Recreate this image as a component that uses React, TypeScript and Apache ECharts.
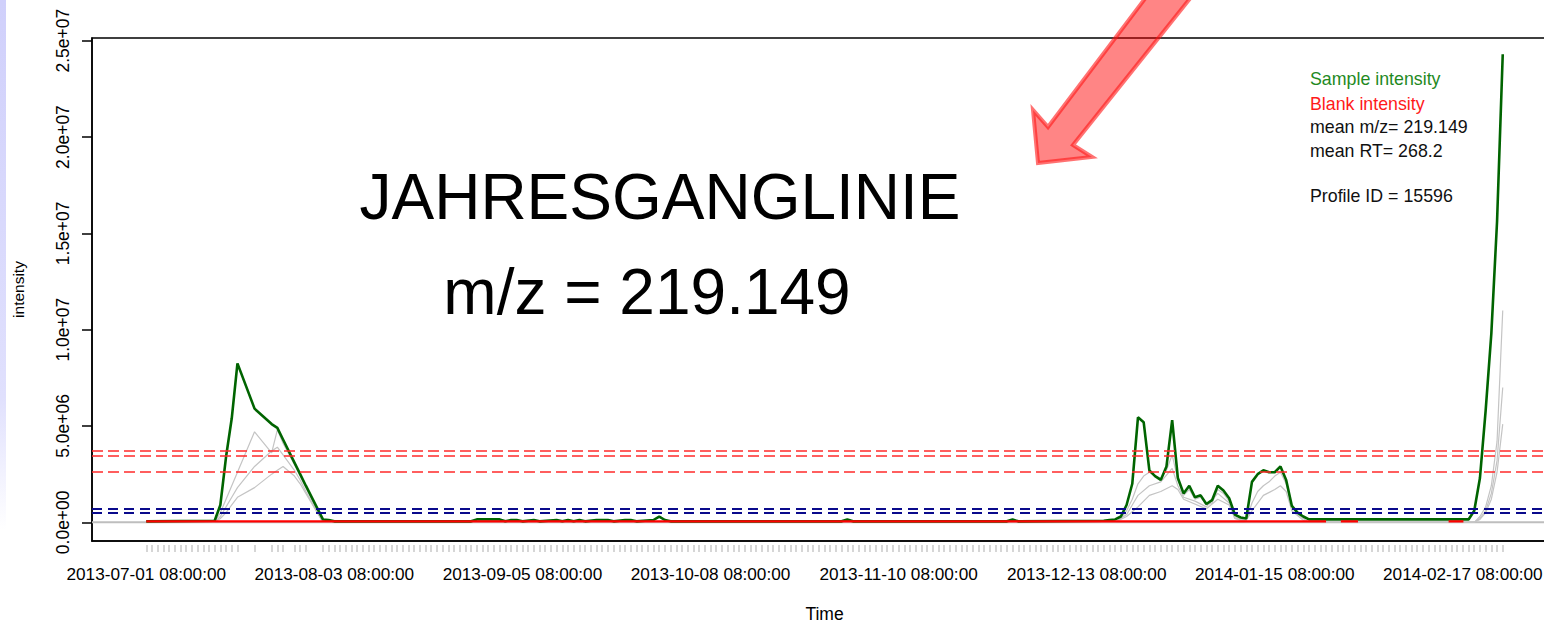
import { useEffect, useRef } from "react";
import * as echarts from "echarts";

const FONT = "'Liberation Sans', Arial, Helvetica, sans-serif";

// x values are days since 2013-07-01 08:00:00; y values are in millions
const xTickDays = [0, 33, 66, 99, 132, 165, 198, 231];
const xTickLabels = [
  "2013-07-01 08:00:00",
  "2013-08-03 08:00:00",
  "2013-09-05 08:00:00",
  "2013-10-08 08:00:00",
  "2013-11-10 08:00:00",
  "2013-12-13 08:00:00",
  "2014-01-15 08:00:00",
  "2014-02-17 08:00:00",
];
const yTickValues = [0, 5, 10, 15, 20, 25];
const yTickLabels = ["0.0e+00", "5.0e+06", "1.0e+07", "1.5e+07", "2.0e+07", "2.5e+07"];

const sampleDays = [
  0, 1, 2, 3, 4, 5, 6, 7, 8, 9, 10, 11, 12, 13, 14, 15, 16, 19, 22, 23, 24, 26, 27, 28,
  31, 32, 33, 34, 35, 36, 37, 38, 39, 40, 41, 42, 43, 44, 45, 46, 47, 48, 49, 50,
  51, 52, 53, 54, 55, 56, 57, 58, 59, 60, 61, 62, 63, 64, 65, 66, 67, 68, 69, 70,
  71, 72, 73, 74, 75, 76, 77, 78, 79, 80, 81, 82, 83, 84, 85, 86, 87, 88, 89, 90,
  91, 92, 93, 94, 95, 96, 97, 98, 99, 100, 101, 102, 103, 104, 105, 106, 107, 108, 109, 110,
  111, 112, 113, 114, 115, 116, 117, 118, 119, 120, 121, 122, 123, 124, 125, 126, 127, 128, 129, 130,
  131, 132, 133, 134, 135, 136, 137, 138, 139, 140, 141, 142, 143, 144, 145, 146, 147, 148, 149, 150,
  151, 152, 153, 154, 155, 156, 157, 158, 159, 160, 161, 162, 163, 164, 165, 166, 167, 168, 169, 170,
  171, 172, 173, 174, 175, 176, 177, 178, 179, 180, 181, 182, 183, 184, 185, 186, 187, 188, 189, 190,
  191, 192, 193, 194, 195, 196, 197, 198, 199, 200, 201, 202, 203, 204, 205, 206, 207, 208, 209, 210,
  211, 212, 213, 214, 215, 216, 217, 218, 219, 220, 221, 222, 223, 224, 225, 226, 227, 228, 229, 230,
  231, 232, 233, 234, 235, 236, 237, 238,
];

const sampleIntensity = [
  [0, 0.05], [12, 0.08], [13, 0.9], [14, 3.4], [15, 5.4], [16, 8.25], [19, 5.9], [22, 5.1], [23, 4.9],
  [24, 4.3], [26, 3.1], [27, 2.5], [28, 1.9], [31, 0.15], [32, 0.12], [33, 0.05],
  [57, 0.05], [58, 0.15], [62, 0.15], [63, 0.05], [64, 0.12], [65, 0.12], [66, 0.05], [68, 0.12], [69, 0.05],
  [72, 0.12], [73, 0.05], [74, 0.12], [75, 0.05], [76, 0.12], [77, 0.05],
  [79, 0.12], [81, 0.12], [82, 0.05], [84, 0.12], [85, 0.12], [86, 0.05], [89, 0.12], [90, 0.3], [91, 0.12], [92, 0.05],
  [122, 0.05], [123, 0.15], [124, 0.05], [151, 0.05], [152, 0.15], [153, 0.05],
  [168, 0.08], [169, 0.12], [170, 0.15], [171, 0.3], [172, 0.9], [173, 2.0], [174, 5.45], [175, 5.2], [176, 2.7],
  [177, 2.4], [178, 2.2], [179, 2.9], [180, 5.3], [181, 2.3], [182, 1.5], [183, 1.9], [184, 1.3], [185, 1.4],
  [186, 0.95], [187, 1.15], [188, 1.9], [189, 1.65], [190, 1.25], [191, 0.4], [192, 0.25], [193, 0.2],
  [194, 2.1], [195, 2.5], [196, 2.7], [197, 2.6], [198, 2.6], [199, 2.9], [200, 2.2], [201, 0.85], [202, 0.5],
  [203, 0.3], [204, 0.15], [232, 0.15], [233, 0.6], [234, 2.3], [235, 5.8], [236, 9.8], [237, 15.6], [238, 24.3],
];

const blankIntensity = [
  [0, 0.05], [207, 0.05], [208, "-"], [209.6, 0.05], [212.6, 0.05], [213, "-"], [228.5, 0.05], [231.1, 0.05],
];

const replicateA = [
  [0, 0], [12, 0], [13, 0.5], [14, 1.2], [15, 1.9], [16, 2.6], [19, 4.7], [22, 3.6], [23, 4.8], [24, 4.1],
  [26, 3.0], [27, 2.4], [28, 1.8], [31, 0], [170, 0], [171, 0.2], [172, 0.6], [173, 1.2], [174, 2.0], [175, 2.4],
  [176, 2.6], [177, 2.4], [178, 2.3], [179, 2.7], [180, 3.5], [181, 2.2], [182, 1.4], [183, 1.7], [184, 1.2],
  [185, 1.3], [186, 0.9], [187, 1.0], [188, 1.7], [189, 1.5], [190, 1.1], [191, 0.3], [192, 0.1], [193, 0.1],
  [194, 1.0], [195, 1.6], [196, 1.9], [197, 2.1], [198, 2.4], [199, 2.6], [200, 2.0], [201, 0.8], [202, 0.4],
  [203, 0.2], [204, 0], [233, 0], [234, 0.3], [235, 0.8], [236, 1.9], [237, 4.2], [238, 11.0],
];
const replicateB = [
  [0, 0], [12, 0], [13, 0.3], [14, 0.8], [15, 1.3], [16, 1.8], [19, 2.9], [22, 3.7], [23, 3.9], [24, 3.5],
  [26, 2.7], [27, 2.2], [28, 1.6], [31, 0], [170, 0], [172, 0.4], [173, 0.9], [174, 1.4], [176, 1.9], [178, 2.1],
  [180, 2.8], [181, 1.9], [182, 1.3], [184, 1.1], [186, 0.8], [188, 1.5], [190, 1.0], [191, 0.2], [193, 0.1],
  [194, 0.6], [196, 1.4], [198, 1.7], [199, 1.9], [200, 1.6], [201, 0.6], [203, 0.1], [204, 0], [233, 0],
  [234, 0.2], [235, 0.6], [236, 1.5], [237, 3.2], [238, 7.0],
];
const replicateC = [
  [0, 0], [12, 0], [13, 0.2], [14, 0.5], [15, 0.9], [16, 1.3], [19, 1.8], [22, 2.5], [23, 2.7], [24, 2.9],
  [26, 2.4], [27, 2.0], [28, 1.5], [31, 0], [170, 0], [172, 0.3], [174, 0.8], [176, 1.4], [178, 1.6], [180, 1.9],
  [181, 1.7], [182, 1.2], [186, 0.7], [188, 1.2], [190, 0.9], [191, 0.2], [193, 0], [233, 0], [234, 0.15],
  [235, 0.5], [236, 1.2], [237, 2.6], [238, 5.1],
];

const blankThresholds = [3.74, 3.46, 2.64];
const sampleThresholds = [0.68, 0.51];

const legendLines = [
  { text: "Sample intensity", color: "#1f8a1f", y: 78.5 },
  { text: "Blank intensity", color: "#ff1a1a", y: 103.5 },
  { text: "mean m/z= 219.149", color: "#111111", y: 127 },
  { text: "mean RT= 268.2", color: "#111111", y: 150.5 },
  { text: "Profile ID = 15596", color: "#111111", y: 196 },
];

const X_MIN = -9.52;
const X_MAX = 247.52;

export default function App() {
  const ref = useRef<HTMLDivElement>(null);
  useEffect(() => {
    if (!ref.current) return;
    const chart = echarts.init(ref.current, undefined, { renderer: "svg" });
    const option: any = {
      animation: false,
      backgroundColor: "#ffffff",
      textStyle: { fontFamily: FONT },
      grid: {
        left: 92,
        top: 38,
        width: 1465,
        height: 503,
        show: true,
        borderColor: "#000",
        borderWidth: 1.5,
        backgroundColor: "transparent",
        containLabel: false,
        outerBoundsMode: "none",
      },
      xAxis: [
        {
          type: "value",
          min: X_MIN,
          max: X_MAX,
          position: "bottom",
          axisLine: { show: true, onZero: false, lineStyle: { color: "#000", width: 1.5 } },
          axisTick: { show: false },
          splitLine: { show: false },
          axisLabel: {
            customValues: xTickDays,
            formatter: (v: number) => {
              const i = xTickDays.indexOf(Math.round(v));
              return i >= 0 ? xTickLabels[i] : "";
            },
            color: "#000",
            fontSize: 17.2,
            margin: 24,
            fontFamily: FONT,
          },
          name: "Time",
          nameLocation: "middle",
          nameGap: 64,
          nameTextStyle: { fontSize: 17.5, color: "#000", fontFamily: FONT },
        },
        {
          type: "value",
          min: X_MIN,
          max: X_MAX,
          position: "bottom",
          offset: 4,
          axisLine: { show: false, onZero: false },
          axisLabel: { show: false },
          splitLine: { show: false },
          axisTick: {
            show: true,
            customValues: sampleDays,
            length: 7,
            lineStyle: { color: "#c8c8c8", width: 1.5 },
          },
        },
      ],
      yAxis: {
        type: "value",
        min: -0.97,
        max: 25.14,
        axisLine: { show: true, onZero: false, lineStyle: { color: "#000", width: 1.5 } },
        axisTick: { show: true, length: 10, customValues: yTickValues, lineStyle: { color: "#000", width: 1.5 } },
        splitLine: { show: false },
        axisLabel: {
          customValues: yTickValues,
          rotate: 90,
          margin: 20,
          formatter: (v: number) => {
            const i = yTickValues.indexOf(Math.round(v));
            return i >= 0 ? yTickLabels[i] : "";
          },
          color: "#000",
          fontSize: 17.5,
          fontFamily: FONT,
        },
        name: "intensity",
        nameLocation: "middle",
        nameGap: 66,
        nameTextStyle: { fontSize: 15.5, color: "#000", fontFamily: FONT },
      },
      series: [
        {
          name: "zero",
          type: "line",
          data: [[X_MIN, 0], [X_MAX, 0]],
          showSymbol: false,
          symbol: "none",
          lineStyle: { color: "#bebebe", width: 2 },
          silent: true,
        },
        ...[replicateA, replicateB, replicateC].map((d, i) => ({
          name: "replicate" + i,
          type: "line",
          data: d,
          showSymbol: false,
          symbol: "none",
          lineStyle: { color: "#c4c4c4", width: 1.2 },
          silent: true,
        })),
        {
          name: "Sample intensity",
          type: "line",
          data: sampleIntensity,
          showSymbol: false,
          symbol: "none",
          lineStyle: { color: "#006400", width: 2.6 },
          silent: true,
        },
        {
          name: "Blank intensity",
          type: "line",
          data: blankIntensity,
          showSymbol: false,
          symbol: "none",
          connectNulls: false,
          lineStyle: { color: "#ff0000", width: 2.2 },
          silent: true,
          markLine: {
            silent: true,
            symbol: "none",
            label: { show: false },
            data: [
              ...blankThresholds.map((v) => ({
                yAxis: v,
                lineStyle: { color: "#ff2a2a", width: 1.6, type: [11, 5] },
              })),
              ...sampleThresholds.map((v) => ({
                yAxis: v,
                lineStyle: { color: "#0a0a8c", width: 2, type: [10, 6] },
              })),
            ],
          },
        },
      ],
      graphic: [
        {
          type: "rect",
          silent: true,
          z: 0,
          shape: { x: 0, y: 0, width: 6, height: 530 },
          style: {
            fill: new echarts.graphic.LinearGradient(0, 0, 0, 1, [
              { offset: 0, color: "#d0d0fb" },
              { offset: 0.75, color: "#e0e0fd" },
              { offset: 1, color: "#ffffff" },
            ]),
          },
        },
        {
          type: "text",
          silent: true,
          z: 50,
          x: 660,
          y: 197,
          style: {
            text: "JAHRESGANGLINIE",
            fontSize: 64,
            fontFamily: FONT,
            fill: "#000",
            align: "center",
            verticalAlign: "middle",
          },
        },
        {
          type: "text",
          silent: true,
          z: 50,
          x: 647,
          y: 292,
          style: {
            text: "m/z = 219.149",
            fontSize: 64,
            fontFamily: FONT,
            fill: "#000",
            align: "center",
            verticalAlign: "middle",
          },
        },
        ...legendLines.map((l) => ({
          type: "text",
          silent: true,
          z: 50,
          x: 1310,
          y: l.y,
          style: {
            text: l.text,
            fontSize: 17.8,
            fontFamily: FONT,
            fill: l.color,
            align: "left",
            verticalAlign: "middle",
          },
        })),
        {
          type: "polygon",
          silent: true,
          z: 100,
          shape: {
            points: [
              [1147, -4],
              [1192, -4],
              [1073, 145],
              [1092, 157],
              [1038, 163],
              [1033, 110],
              [1048, 127],
            ],
          },
          style: {
            fill: "rgba(255,0,0,0.48)",
            stroke: "rgba(255,20,20,0.6)",
            lineWidth: 4,
            lineJoin: "miter",
          },
        },
      ],
    };
    chart.setOption(option);
    return () => chart.dispose();
  }, []);
  return (
    <div
      ref={ref}
      style={{ position: "absolute", left: 0, top: 0, width: 1544, height: 624, background: "#fff" }}
    />
  );
}
